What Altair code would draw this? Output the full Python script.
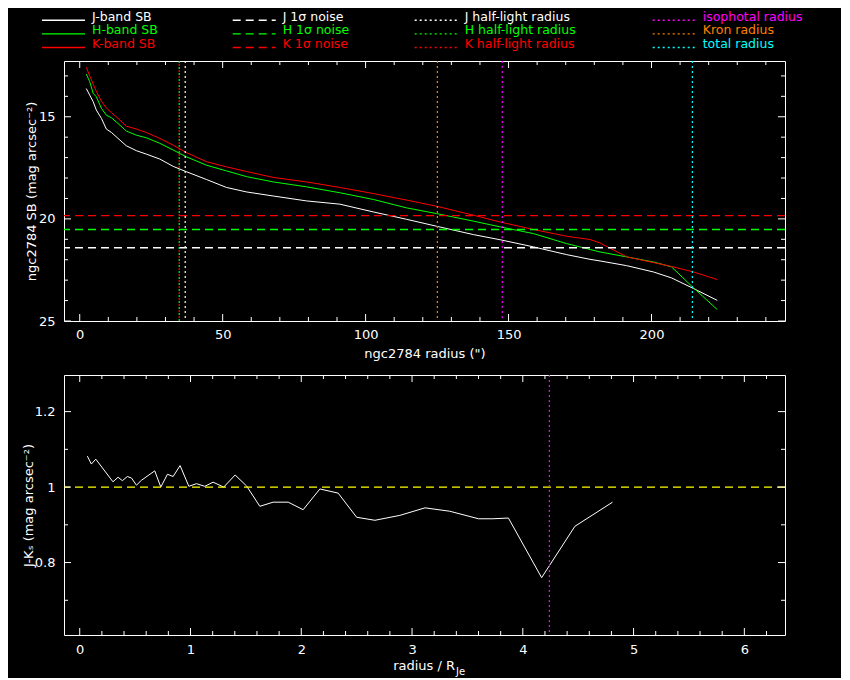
import altair as alt
import pandas as pd

FONT = "DejaVu Sans"

# ---------------- data ----------------
radius = [2.3, 3.5, 4.7, 5.8, 7.6, 9.3, 11.1, 13.4, 16.3, 19.8, 23.3, 28.0,
          32.7, 37.3, 44.3, 51.3, 58.3, 67.7, 79.3, 91.0, 102.7, 114.3, 124.8,
          137.7, 147.0, 158.7, 170.3, 178.5, 182.0, 191.3, 200.7, 207.0, 214.7, 223.0]
sb_j = [13.62, 13.94, 14.26, 14.67, 15.08, 15.60, 15.77, 16.06, 16.42, 16.66, 16.83, 17.07,
        17.43, 17.69, 18.07, 18.46, 18.68, 18.88, 19.12, 19.28, 19.66, 20.02, 20.36,
        20.77, 21.02, 21.37, 21.75, 21.98, 22.06, 22.29, 22.60, 22.89, 23.41, 23.99]
sb_h = [12.91, 13.28, 13.85, 14.02, 14.59, 14.92, 15.05, 15.33, 15.70, 15.90, 16.03, 16.30,
        16.63, 16.96, 17.37, 17.65, 17.93, 18.19, 18.43, 18.72, 19.05, 19.46, 19.74,
        20.11, 20.39, 20.72, 21.21, 21.50, 21.62, 21.86, 22.11, 22.35, 23.38, 24.44]
sb_k = [12.58, 13.00, 13.40, 13.75, 14.24, 14.57, 14.80, 15.08, 15.46, 15.60, 15.77, 16.06,
        16.39, 16.75, 17.20, 17.45, 17.68, 17.97, 18.19, 18.46, 18.76, 19.08, 19.38,
        19.82, 20.15, 20.52, 20.85, 21.01, 21.18, 21.86, 22.14, 22.33, 22.60, 22.97]

noise_names = ["J 1σ noise", "H 1σ noise", "K 1σ noise"]
noise_levels = [21.41, 20.52, 19.84]

radius_names = ["J half-light radius", "H half-light radius", "K half-light radius",
                "isophotal radius", "Kron radius", "total radius"]
radius_values = [36.9, 34.8, 34.8, 147.8, 125.1, 214.3]

ratio = [0.069, 0.105, 0.145, 0.300, 0.346, 0.385, 0.430, 0.467, 0.512, 0.557, 0.677,
         0.732, 0.792, 0.843, 0.906, 0.985, 1.054, 1.129, 1.204, 1.300, 1.403, 1.506,
         1.626, 1.746, 1.882, 2.017, 2.168, 2.333, 2.500, 2.665, 2.890, 3.117, 3.340,
         3.600, 3.730, 3.870, 4.170, 4.470, 4.810]
jk = [1.082, 1.061, 1.074, 1.014, 1.026, 1.017, 1.028, 1.024, 1.005, 1.018, 1.043,
      1.000, 1.034, 1.028, 1.057, 1.002, 1.009, 1.002, 1.013, 1.000, 1.032, 1.003,
      0.949, 0.960, 0.960, 0.940, 0.995, 0.984, 0.920, 0.912, 0.925, 0.945, 0.936,
      0.916, 0.916, 0.918, 0.760, 0.896, 0.960]
jk_reference = [1.0]
iso_ratio = [4.24]

legend_labels = ["J-band SB", "H-band SB", "K-band SB",
                 "J 1σ noise", "H 1σ noise", "K 1σ noise",
                 "J half-light radius", "H half-light radius", "K half-light radius",
                 "isophotal radius", "Kron radius", "total radius"]
legend_col = [0, 0, 0, 1, 1, 1, 2, 2, 2, 3, 3, 3]
legend_row = [0, 1, 2, 0, 1, 2, 0, 1, 2, 0, 1, 2]
legend_style = ["solid"] * 3 + ["dashed"] * 3 + ["dotted"] * 6

top_x_major = [0, 50, 100, 150, 200]
top_x_minor = [10, 20, 30, 40, 60, 70, 80, 90, 110, 120, 130, 140, 160, 170, 180, 190,
               210, 220, 230, 240]
top_y_major = [15, 20, 25]
top_y_minor = [13, 14, 16, 17, 18, 19, 21, 22, 23, 24]
bot_x_major = [0, 1, 2, 3, 4, 5, 6]
bot_x_minor = [0.2, 0.4, 0.6, 0.8, 1.2, 1.4, 1.6, 1.8, 2.2, 2.4, 2.6, 2.8, 3.2, 3.4,
               3.6, 3.8, 4.2, 4.4, 4.6, 4.8, 5.2, 5.4, 5.6, 5.8, 6.2]
bot_y_major = [0.8, 1.0, 1.2]
bot_y_minor = [0.7, 0.9, 1.1]

# ---------------- styles ----------------
W, H = 721, 260
MAJ, MIN = 7, 4
LW = 1.2
LWH = 1.4
series_colors = ["#ffffff", "#00ff00", "#ff0000",
                 "#ffffff", "#00ff00", "#ff0000",
                 "#ffffff", "#00ff00", "#ff0000",
                 "#ff00ff", "#ff8000", "#00ffff"]
color_scale = alt.Scale(domain=legend_labels, range=series_colors)
dash_scale = alt.Scale(domain=["solid", "dashed", "dotted"], range=[[1, 0], [8, 5], [2, 3]])

xs_top = alt.Scale(domain=[-5.5, 246.7], nice=False, zero=False)
ys_top = alt.Scale(domain=[12.27, 25.0], reverse=True, nice=False, zero=False)
xs_bot = alt.Scale(domain=[-0.142, 6.367], nice=False, zero=False)
ys_bot = alt.Scale(domain=[0.608, 1.297], nice=False, zero=False)


def x_ticks(vals, length, scale):
    base = alt.Chart(pd.DataFrame({"t": vals})).mark_rule(color="white", strokeWidth=1)
    ex = alt.X("t:Q", scale=scale)
    return [base.encode(x=ex, y=alt.value(H), y2=alt.value(H - length)),
            base.encode(x=ex, y=alt.value(0), y2=alt.value(length))]


def y_ticks(vals, length, scale):
    base = alt.Chart(pd.DataFrame({"t": vals})).mark_rule(color="white", strokeWidth=1)
    ey = alt.Y("t:Q", scale=scale)
    return [base.encode(y=ey, x=alt.value(0), x2=alt.value(length)),
            base.encode(y=ey, x=alt.value(W - length), x2=alt.value(W))]


# ---------------- top panel ----------------
curves = pd.DataFrame({
    "radius": radius * 3,
    "sb": sb_j + sb_h + sb_k,
    "series": ["J-band SB"] * len(radius) + ["H-band SB"] * len(radius) + ["K-band SB"] * len(radius),
})
noise = pd.DataFrame({"series": noise_names, "level": noise_levels})
vlines = pd.DataFrame({"series": radius_names, "r": radius_values})

col_enc = alt.Color("series:N", scale=color_scale, legend=None)

curve_layer = alt.Chart(curves).mark_line(strokeWidth=1).encode(
    x=alt.X("radius:Q", scale=xs_top,
            axis=alt.Axis(values=top_x_major, title='ngc2784 radius (")', labelPadding=7,
                          titleY=36, titleBaseline="alphabetic")),
    y=alt.Y("sb:Q", scale=ys_top,
            axis=alt.Axis(values=top_y_major, title="ngc2784 SB (mag arcsec⁻²)", labelPadding=9,
                          titleX=-33, titleBaseline="middle")),
    color=col_enc,
    order="radius:Q",
)

noise_layer = alt.Chart(noise).mark_rule(strokeWidth=LWH, strokeDash=[8, 5]).encode(
    y=alt.Y("level:Q", scale=ys_top), color=col_enc)

vl_main = alt.Chart(vlines).transform_filter(
    "datum.series != 'H half-light radius' && datum.series != 'K half-light radius'"
).mark_rule(strokeWidth=LW, strokeDash=[2, 3]).encode(
    x=alt.X("r:Q", scale=xs_top), color=col_enc)
vl_h = alt.Chart(vlines).transform_filter("datum.series == 'H half-light radius'").mark_rule(
    strokeWidth=LW, strokeDash=[2, 4]).encode(x=alt.X("r:Q", scale=xs_top), color=col_enc)
vl_k = alt.Chart(vlines).transform_filter("datum.series == 'K half-light radius'").mark_rule(
    strokeWidth=LW, strokeDash=[2, 4], strokeDashOffset=3).encode(
    x=alt.X("r:Q", scale=xs_top), color=col_enc)

top_main = alt.layer(
    curve_layer, noise_layer, vl_main, vl_h, vl_k,
    *x_ticks(top_x_major, MAJ, xs_top), *x_ticks(top_x_minor, MIN, xs_top),
    *y_ticks(top_y_major, MAJ, ys_top), *y_ticks(top_y_minor, MIN, ys_top),
)

legend_df = pd.DataFrame({"series": legend_labels, "col": legend_col,
                          "row": legend_row, "style": legend_style})
leg_x = alt.Scale(domain=[0, 1, 2, 3], range=[-22, 168.7, 350.7, 588.7], nice=False, zero=False)
leg_y = alt.Scale(domain=[0, 2], range=[-44.3, -17], nice=False, zero=False)

leg_lines = alt.Chart(legend_df).mark_rule(strokeWidth=LWH, x2Offset=43, yOffset=3.5).encode(
    x=alt.X("col:Q", scale=leg_x, axis=None), x2="col:Q",
    y=alt.Y("row:Q", scale=leg_y, axis=None),
    color=col_enc,
    strokeDash=alt.StrokeDash("style:N", scale=dash_scale, legend=None),
)
leg_text = alt.Chart(legend_df).mark_text(align="left", baseline="middle", dx=50,
                                          font=FONT, fontSize=12.5).encode(
    x=alt.X("col:Q", scale=leg_x, axis=None),
    y=alt.Y("row:Q", scale=leg_y, axis=None),
    text="series:N",
    color=col_enc,
)

top = alt.layer(top_main, leg_lines, leg_text).resolve_scale(
    x="independent", y="independent").properties(width=W, height=H)

# ---------------- bottom panel ----------------
color_df = pd.DataFrame({"ratio": ratio, "jk": jk})
jk_layer = alt.Chart(color_df).mark_line(color="white", strokeWidth=1).encode(
    x=alt.X("ratio:Q", scale=xs_bot,
            axis=alt.Axis(values=bot_x_major, format="~g", title=None, labelPadding=8)),
    y=alt.Y("jk:Q", scale=ys_bot,
            axis=alt.Axis(values=bot_y_major, format="~g", title="J-Kₛ (mag arcsec⁻²)",
                          labelPadding=9, titleX=-36, titleBaseline="middle")),
    order="ratio:Q",
)
ref_layer = alt.Chart(pd.DataFrame({"v": jk_reference})).mark_rule(
    color="#ffff00", strokeWidth=LWH, strokeDash=[8, 5]).encode(
    y=alt.Y("v:Q", scale=ys_bot))
iso_layer = alt.Chart(pd.DataFrame({"v": iso_ratio})).mark_rule(
    color="#ff00ff", strokeWidth=LW, strokeDash=[2, 3]).encode(
    x=alt.X("v:Q", scale=xs_bot))
title_df = pd.DataFrame({"t": ["radius / R"], "s": ["Je"]})
t_main = alt.Chart(title_df).mark_text(align="right", baseline="alphabetic", font=FONT,
                                       fontSize=13, color="white").encode(
    text="t:N", x=alt.value(391), y=alt.value(H + 35))
t_sub = alt.Chart(title_df).mark_text(align="left", baseline="alphabetic", font=FONT,
                                      fontSize=10, color="white").encode(
    text="s:N", x=alt.value(392), y=alt.value(H + 40))

bottom = alt.layer(
    jk_layer, ref_layer, iso_layer,
    *x_ticks(bot_x_major, MAJ, xs_bot), *x_ticks(bot_x_minor, MIN, xs_bot),
    *y_ticks(bot_y_major, MAJ, ys_bot), *y_ticks(bot_y_minor, MIN, ys_bot),
    t_main, t_sub,
).properties(width=W, height=H)

chart = alt.vconcat(top, bottom, spacing=12).properties(
    background="black",
    padding={"left": 13, "top": 2, "right": 38, "bottom": 0},
).configure_view(stroke="white", strokeWidth=1).configure_axis(
    grid=False, ticks=False, domain=False, labelColor="white", titleColor="white",
    labelFont=FONT, titleFont=FONT, labelFontSize=13, titleFontSize=13,
    titleFontWeight="normal", labelFlush=False,
)

chart.save("out.html", embed_options={"renderer": "svg", "actions": False})
